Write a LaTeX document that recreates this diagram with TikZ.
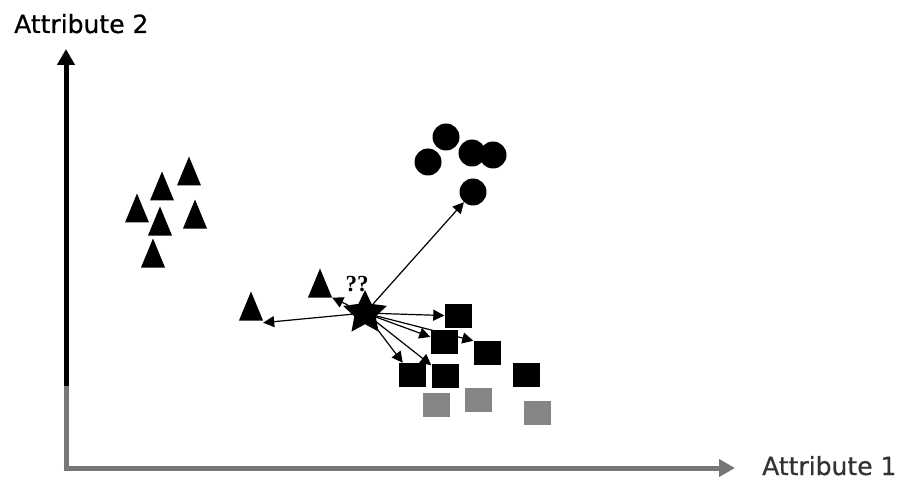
\documentclass[tikz,border=0pt]{standalone}
\usepackage{fontspec}
\setmainfont{DejaVu Sans}
\newfontfamily\labfont[FakeBold=0.6]{DejaVu Sans}
\newfontfamily\qfont{Liberation Serif}
\usetikzlibrary{arrows.meta,shapes.geometric}
\definecolor{axgray}{HTML}{777777}
\definecolor{sqgray}{HTML}{858585}
\begin{document}
\begin{tikzpicture}[x=1pt,y=-1pt,
  tri/.style={minimum width=24pt,minimum height=29pt,inner sep=0pt,
    path picture={\fill[black] (path picture bounding box.south west) -- (path picture bounding box.south east) -- (path picture bounding box.north) -- cycle;}},
  blob/.style={circle,fill=black,minimum size=27pt,inner sep=0pt},
  sq/.style={rectangle,fill=black,minimum width=27pt,minimum height=24pt,inner sep=0pt},
  gsq/.style={sq,fill=sqgray},
  knnstar/.style={star,star points=5,star point ratio=2.05,fill=black,minimum size=46pt,inner sep=0pt},
  nn/.style={-{Triangle[length=11pt,width=11pt]},line width=1.2pt},
  axlabel/.style={inner sep=0pt,font=\labfont\fontsize{25}{30}\selectfont}
]
\useasboundingbox (0,0) rectangle (903,484);
% axes
\coordinate (O) at (66,468);
\coordinate (ysplit) at (66,386);
\coordinate (ytip) at (66,49);
\coordinate (xtip) at (735,468);
\draw[line width=5pt,axgray] (O) -- (ysplit);
\draw[line width=5pt,black,-{Triangle[length=16pt,width=17pt]}] (ysplit) -- (ytip);
\draw[line width=5pt,axgray,-{Triangle[length=16pt,width=17pt]}] ([xshift=-2.5pt]O) -- (xtip);
\node[axlabel,anchor=base west] (lab2) at (14,33) {Attribute 2};
\node[axlabel,anchor=base west,text=black!80] (lab1) at (762,475) {Attribute 1};
% triangle cluster
\node[tri] (t1) at (189,171) {};
\node[tri] (t2) at (162,186) {};
\node[tri] (t3) at (137,208) {};
\node[tri] (t4) at (160,221) {};
\node[tri] (t5) at (195,214) {};
\node[tri] (t6) at (153,253) {};
\node[tri] (ta) at (251,306) {};
\node[tri] (tb) at (320,283) {};
% circles
\node[blob] (c1) at (446,137) {};
\node[blob] (c2) at (428,162) {};
\node[blob] (c3) at (472,153) {};
\node[blob] (c4) at (493,155) {};
\node[blob] (c5) at (473,192) {};
% squares
\node[sq] (s1) at (458,316) {};
\node[sq] (s2) at (444,342) {};
\node[sq] (s3) at (487,353) {};
\node[sq] (s4) at (412,375) {};
\node[sq] (s5) at (445,376) {};
\node[sq] (s6) at (526,375) {};
\node[gsq] (g1) at (436,405) {};
\node[gsq] (g2) at (478,400) {};
\node[gsq] (g3) at (537,413) {};
% query star
\node[knnstar] (q) at (365,313) {};
\node[inner sep=0pt,anchor=base,font=\qfont\bfseries\fontsize{23}{25}\selectfont] (qq) at (357,291) {??};
% neighbour arrows
\draw[nn] (q.center) -- ([yshift=-2pt]ta.south east);
\draw[nn] (q) -- (tb.south east);
\draw[nn] (q) -- (c5);
\draw[nn] (q.center) -- (s1);
\draw[nn] (q.center) -- (s2);
\draw[nn] (q.center) -- (s3.north west);
\draw[nn] (q.center) -- (s4);
\draw[nn] (q.center) -- (s5);
\end{tikzpicture}
\end{document}
